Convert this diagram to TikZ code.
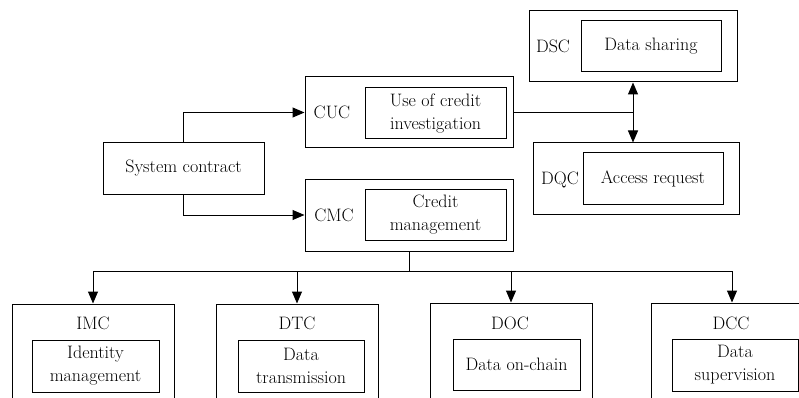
\documentclass[tikz,border=0pt]{standalone}
\usetikzlibrary{arrows.meta}
\begin{document}
\begin{tikzpicture}[x=1pt,y=-1pt,
  line width=1pt,
  every node/.style={font=\fontsize{18}{23}\selectfont, inner sep=0pt},
  outer/.style={draw, rectangle},
  inner/.style={draw, rectangle, align=center},
  arr/.style={-{Triangle[length=12pt,width=10pt]}},
  darr/.style={{Triangle[length=12pt,width=10pt]}-{Triangle[length=12pt,width=10pt]}}]
\useasboundingbox (0,0) rectangle (799,398);
\clip (0,0) rectangle (799,398);

% left entry box
\node[outer, minimum width=161pt, minimum height=51pt] (sys) at (183.5,168.5) {System contract};

% middle column
\node[outer, minimum width=208pt, minimum height=71pt] (cuc) at (409,112.5) {};
\node (cuclab) at (332,112) {CUC};
\node[inner, minimum width=141pt, minimum height=51pt] (cucin) at (435.5,113.5) {Use of credit\\investigation};

\node[outer, minimum width=208pt, minimum height=72pt] (cmc) at (409,215) {};
\node (cmclab) at (334,215) {CMC};
\node[inner, minimum width=141pt, minimum height=51pt] (cmcin) at (435.5,214.5) {Credit\\management};

% right column
\node[outer, minimum width=208pt, minimum height=71pt] (dsc) at (633,46.5) {};
\node (dsclab) at (553,46) {DSC};
\node[inner, minimum width=140pt, minimum height=51pt] (dscin) at (651,46.5) {Data sharing};

\node[outer, minimum width=206pt, minimum height=71pt] (dqc) at (636,178.5) {};
\node (dqclab) at (560,180) {DQC};
\node[inner, minimum width=140pt, minimum height=51pt] (dqcin) at (653,178.5) {Access request};

% bottom row (boxes run past the lower edge)
\node[outer, minimum width=162pt, minimum height=120pt] (imc) at (93,364) {};
\node (imclab) at (93,323) {IMC};
\node[inner, minimum width=127pt, minimum height=52pt] (imcin) at (95.5,366) {Identity\\management};

\node[outer, minimum width=162pt, minimum height=120pt] (dtc) at (297,364) {};
\node (dtclab) at (297,323) {DTC};
\node[inner, minimum width=126pt, minimum height=52pt] (dtcin) at (301,366) {Data\\transmission};

\node[outer, minimum width=162pt, minimum height=120pt] (doc) at (511,363) {};
\node (doclab) at (510,323) {DOC};
\node[inner, minimum width=127pt, minimum height=51pt] (docin) at (516.5,364.5) {Data on-chain};

\node[outer, minimum width=162pt, minimum height=120pt] (dcc) at (732,363) {};
\node (dcclab) at (731,323) {DCC};
\node[inner, minimum width=126pt, minimum height=52pt] (dccin) at (735,365) {Data\\supervision};

% connectors
\draw[arr] (sys.north) |- (cuc.west);
\draw[arr] (sys.south) |- (cmc.west);
\draw (cuc.east) -- (cuc.east -| dsc.south) coordinate (junc);
\draw[darr] (dsc.south) -- (dsc.south |- dqc.north);

\coordinate (bus) at (cmc.south |- 0,271);
\draw (cmc.south) -- (bus);
\draw[arr] (bus) -| (imc.north);
\draw[arr] (bus) -| (dtc.north);
\draw[arr] (bus) -| (doc.north);
\draw[arr] (bus) -| (dcc.north);
\end{tikzpicture}
\end{document}
